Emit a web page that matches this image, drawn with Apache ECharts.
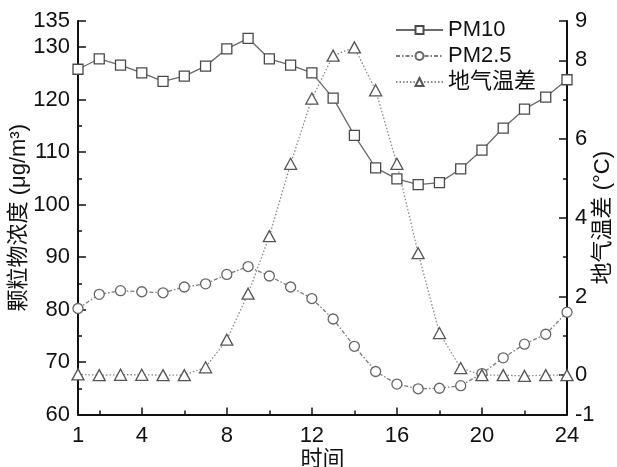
<!DOCTYPE html>
<html>
<head>
<meta charset="utf-8">
<script src="https://cdn.jsdelivr.net/npm/echarts@6/dist/echarts.min.js"></script>
<style>
html,body{margin:0;padding:0;background:#fff;}
#chart{width:617px;height:467px;}
</style>
</head>
<body>
<div id="chart"></div>
<script>
var hours = [1,2,3,4,5,6,7,8,9,10,11,12,13,14,15,16,17,18,19,20,21,22,23,24];
var pm10 = [125.8,127.8,126.6,125.1,123.5,124.5,126.4,129.7,131.7,127.8,126.6,125.1,120.3,113.2,107.0,104.9,103.8,104.2,106.8,110.4,114.6,118.2,120.5,123.8];
var pm25 = [80.2,82.9,83.6,83.4,83.2,84.3,84.9,86.7,88.2,86.4,84.3,82.1,78.2,73.0,68.2,65.8,64.9,65.0,65.5,67.8,70.8,73.4,75.3,79.5];
var tempDiff = [0.02,0.0,0.01,0.01,0.0,0.0,0.2,0.9,2.07,3.53,5.37,7.03,8.12,8.33,7.24,5.37,3.1,1.07,0.18,0.0,0.0,-0.02,0.0,0.0];

var xLabels = [1,4,8,12,16,20,24];
var xMinor = [2,6,10,14,18,22];
var leftLabels = [60,70,80,90,100,110,120,130,135];
var leftMinor = [65,75,85,95,105,115,125];
var rightLabels = [-1,0,2,4,6,8,9];
var rightMinor = [1,3,5,7];

var FONT = '"Liberation Sans", Arial, "Noto Sans CJK SC", sans-serif';
var AX = '#111';

function pairs(ys){ return hours.map(function(h,i){ return [h, ys[i]]; }); }

var chart = echarts.init(document.getElementById('chart'), null, {renderer:'canvas'});
var labelStyle = {fontSize:22, color:'#111', fontFamily:FONT};

chart.setOption({
  animation:false,
  backgroundColor:'#fff',
  textStyle:{fontFamily:FONT},
  grid:{left:78, right:50, top:21, bottom:52.5, containLabel:false, outerBoundsMode:'none'},
  legend:{
    orient:'vertical', left:390, top:13, itemWidth:47, itemHeight:10, itemGap:2,
    textStyle:{fontSize:22, color:'#111', fontFamily:FONT, lineHeight:24},
    data:['PM10','PM2.5','地气温差']
  },
  xAxis:[{
    type:'value', min:1, max:24, position:'bottom',
    name:'时间', nameLocation:'middle', nameGap:34, nameMoveOverlap:false,
    nameTextStyle:{fontSize:22, color:'#111', fontFamily:FONT},
    axisLine:{show:true, onZero:false, lineStyle:{color:AX, width:2}},
    axisTick:{show:true, inside:true, length:7, customValues:xLabels, lineStyle:{color:AX, width:1.5}},
    axisLabel:Object.assign({customValues:xLabels, margin:10}, labelStyle),
    splitLine:{show:false}
  },{
    type:'value', min:1, max:24, position:'bottom',
    axisLine:{show:false, onZero:false},
    axisTick:{show:true, inside:true, length:4, customValues:xMinor, lineStyle:{color:AX, width:1.5}},
    axisLabel:{show:false}, splitLine:{show:false}
  }],
  yAxis:[{
    type:'value', min:60, max:135, interval:5, position:'left',
    name:'颗粒物浓度 (μg/m³)', nameLocation:'middle', nameGap:48, nameRotate:90, nameMoveOverlap:false,
    nameTextStyle:{fontSize:22, color:'#111', fontFamily:FONT},
    axisLine:{show:true, onZero:false, lineStyle:{color:AX, width:2}},
    axisTick:{show:true, inside:true, length:8, customValues:leftLabels, lineStyle:{color:AX, width:1.5}},
    axisLabel:Object.assign({customValues:leftLabels, margin:8}, labelStyle),
    splitLine:{show:false}
  },{
    type:'value', min:-1, max:9, interval:1, position:'right',
    name:'地气温差 (°C)', nameLocation:'middle', nameGap:25, nameRotate:90, nameMoveOverlap:false,
    nameTextStyle:{fontSize:22, color:'#111', fontFamily:FONT},
    axisLine:{show:true, onZero:false, lineStyle:{color:AX, width:2}},
    axisTick:{show:true, inside:true, length:8, customValues:rightLabels, lineStyle:{color:AX, width:1.5}},
    axisLabel:Object.assign({customValues:rightLabels, margin:8}, labelStyle),
    splitLine:{show:false}
  },{
    type:'value', min:60, max:135, interval:5, position:'left',
    axisLine:{show:false, onZero:false},
    axisTick:{show:true, inside:true, length:4, customValues:leftMinor, lineStyle:{color:AX, width:1.5}},
    axisLabel:{show:false}, splitLine:{show:false}
  },{
    type:'value', min:-1, max:9, interval:1, position:'right',
    axisLine:{show:false, onZero:false},
    axisTick:{show:true, inside:true, length:4, customValues:rightMinor, lineStyle:{color:AX, width:1.5}},
    axisLabel:{show:false}, splitLine:{show:false}
  }],
  series:[{
    name:'PM10', type:'line', xAxisIndex:0, yAxisIndex:0, data:pairs(pm10),
    symbol:'rect', symbolSize:10, showAllSymbol:true,
    lineStyle:{color:'#6a6a6a', width:1.3, type:'solid'},
    itemStyle:{color:'#fff', borderColor:'#4a4a4a', borderWidth:1.3},
    z:3
  },{
    name:'PM2.5', type:'line', xAxisIndex:0, yAxisIndex:0, data:pairs(pm25),
    symbol:'circle', symbolSize:10, showAllSymbol:true,
    lineStyle:{color:'#7a7a7a', width:1.3, type:[4,2,1.5,2]},
    itemStyle:{color:'#fff', borderColor:'#666', borderWidth:1.3},
    z:2
  },{
    name:'地气温差', type:'line', xAxisIndex:0, yAxisIndex:1, data:pairs(tempDiff),
    symbol:'triangle', symbolSize:[12,11], showAllSymbol:true,
    lineStyle:{color:'#888', width:1.3, type:[1.5,2]},
    itemStyle:{color:'#fff', borderColor:'#555', borderWidth:1.3},
    z:2
  }]
});
</script>
</body>
</html>
